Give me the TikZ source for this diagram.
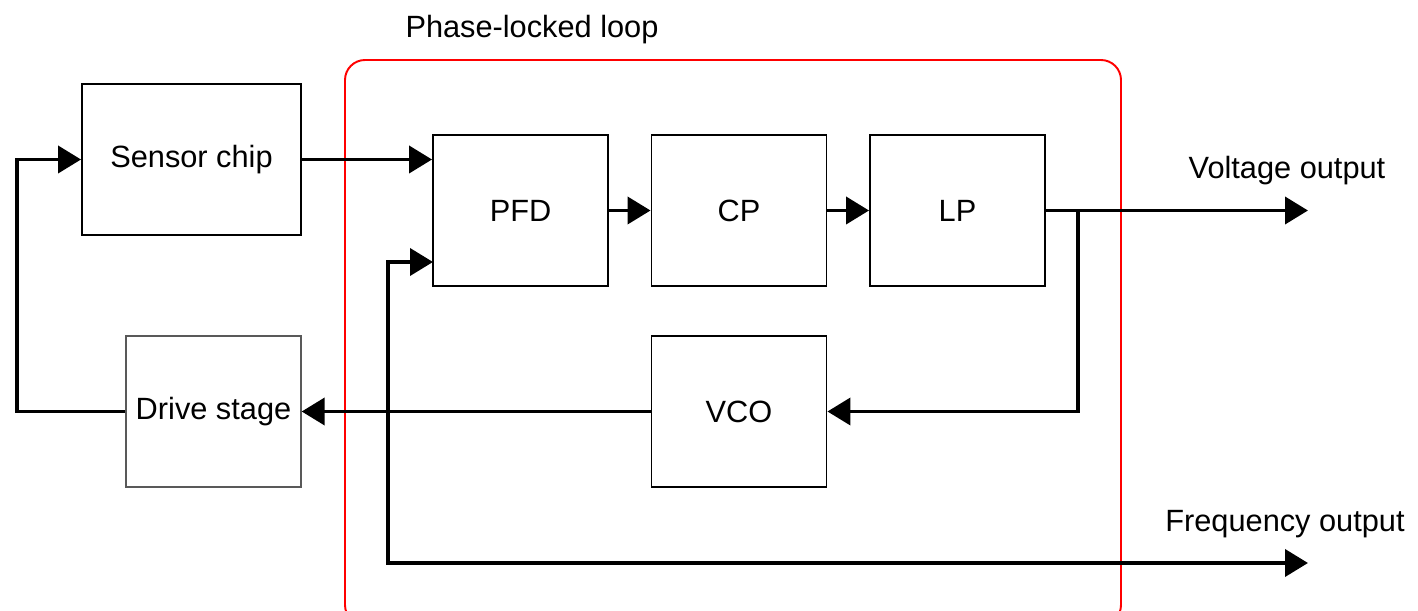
\documentclass[tikz,border=0pt]{standalone}
\usepackage{fontspec}
\setmainfont{Liberation Sans}
\usetikzlibrary{arrows.meta}
\begin{document}
\begin{tikzpicture}[x=0.02cm,y=-0.02cm,
  font=\fontsize{17.5}{21}\selectfont,
  blk/.style={draw=black,line width=1.1pt,minimum width=3.5cm,minimum height=3.02cm,inner sep=0pt},
  conn/.style={line width=2.2pt,line join=miter},
  tip/.style={-{Triangle[length=0.46cm,width=0.54cm]}},
  loopbox/.style={draw=red,line width=1.1pt,rounded corners=0.4cm}]
\useasboundingbox (0,0) rectangle (1418,611);
% phase-locked loop frame
\draw[loopbox] (345,60) rectangle (1121,625);
\node (title) at (532,30) {Phase-locked loop};
% blocks
\node[blk,minimum width=4.38cm] (sensor) at (191.5,159.5) {Sensor chip};
\node[blk,draw=black!65,line width=0.8pt] (drive) at (213.5,411.5) {Drive stage};
\node[blk] (pfd) at (520.5,210.5) {PFD};
\node[blk] (cp) at (739,210.5) {CP};
\node[blk] (lp) at (957.5,210.5) {LP};
\node[blk] (vco) at (739,411.5) {VCO};
% coordinates
\coordinate (lcorner) at (17,411.5);
\coordinate (pfdin2) at (433,262);
\coordinate (fc) at (388,563);
\coordinate (vout) at (1308,210.5);
\coordinate (fout) at (1308,563);
\coordinate (br) at (1078,210.5);
% connectors
\draw[conn,tip] (drive.west) -- (lcorner) |- (sensor.west);
\draw[conn,tip] (sensor.east) -- (pfd.west |- sensor.east);
\draw[conn,tip] (pfd.east) -- (cp.west);
\draw[conn,tip] (cp.east) -- (lp.west);
\draw[conn,tip] (lp.east) -- (vout);
\draw[conn,tip] (br) |- (vco.east);
\draw[conn,tip] (vco.west) -- (drive.east);
\draw[conn,{Triangle[length=0.46cm,width=0.54cm]}-{Triangle[length=0.46cm,width=0.54cm]}] (fout) -- (fc) |- (pfdin2);
% output labels
\node (vlabel) at (1287,171) {Voltage output};
\node (flabel) at (1285,524) {Frequency output};
\end{tikzpicture}
\end{document}
